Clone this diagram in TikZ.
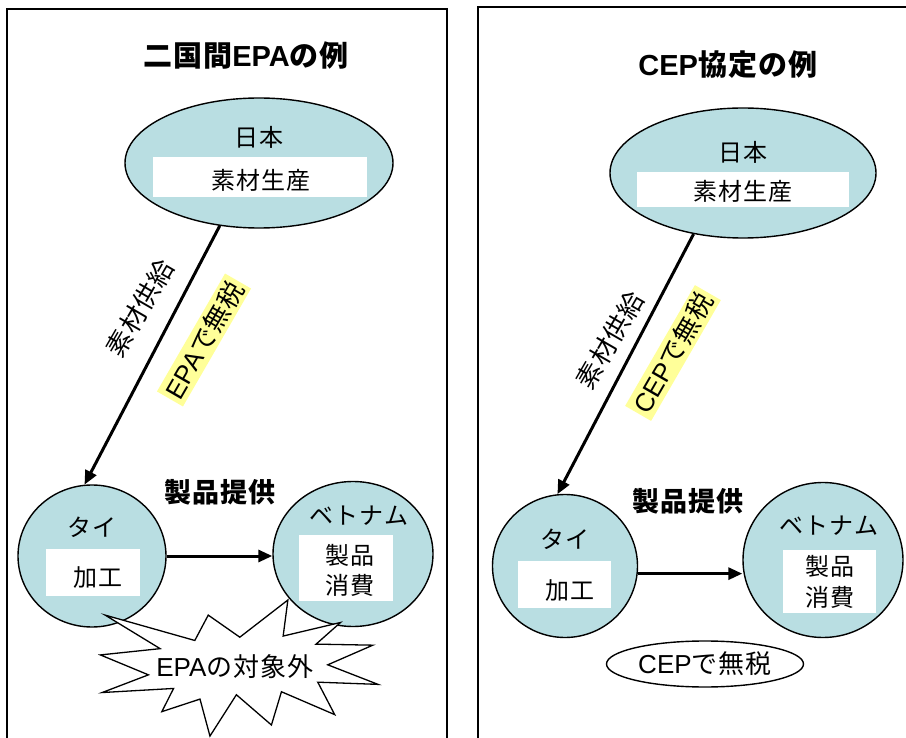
\documentclass[tikz,border=0pt]{standalone}
\usepackage{fontspec}
\setmainfont{Noto Sans CJK JP}[LetterSpace=4]
\newfontfamily\la{Liberation Sans}
\usetikzlibrary{shapes.geometric,arrows.meta}
\definecolor{cbl}{RGB}{185,222,226}
\definecolor{hly}{RGB}{255,255,153}
\tikzset{
  country/.style={ellipse, draw, line width=1.4pt, fill=cbl, inner sep=0pt},
  wbox/.style={fill=white, inner sep=0pt},
  lbl/.style={font=\fontsize{24}{28}\selectfont, inner sep=0pt},
  big/.style={font=\fontsize{26}{30}\selectfont, inner sep=0pt},
  ttl/.style={font=\fontsize{29}{32}\selectfont\bfseries, inner sep=0pt},
  flow/.style={font=\fontsize{27}{30}\selectfont\bfseries, inner sep=0pt},
  arr/.style={line width=3pt, -{Triangle[length=14pt,width=12pt]}},
  panel/.style={draw, line width=1.4pt},
  hlbox/.style={big, fill=hly, inner sep=3pt, rotate=60},
  seal/.style={draw, line width=1.3pt, fill=white, line join=miter},
}
\begin{document}
\begin{tikzpicture}[x=1pt,y=-1pt]
\useasboundingbox (0,0) rectangle (906,738);
\clip (0,0) rectangle (906,738);
\fill[white] (0,0) rectangle (906,738);
\draw[panel] (7,9) rectangle (447,760);
\draw[panel] (478,7) rectangle (920,760);

% titles
\node[ttl] (t1) at (246,55) {二国間{\la EPA}の例};
\node[ttl] (t2) at (728,65) {{\la CEP}協定の例};

% ---------- left panel ----------
\node[country, minimum width=268, minimum height=130] (jpL) at (259,163) {};
\node[wbox, minimum width=214, minimum height=40] (bxL) at (260,177) {};
\node[lbl] (jpLn) at (259,137) {日本};
\node[lbl] (jpLs) at (261,180) {素材生産};

\node[country, minimum width=148, minimum height=142] (thL) at (92,556) {};
\node[wbox, minimum width=94, minimum height=47] (thLb) at (93,572) {};
\node[lbl] (thLn) at (92,527) {タイ};
\node[lbl] (thLs) at (98,578) {加工};

\node[country, minimum width=160, minimum height=145] (vnL) at (353,554) {};
\node[wbox, minimum width=94, minimum height=66] (vnLb) at (346,568) {};
\node[lbl] (vnLn) at (359,516) {ベトナム};
\node[lbl] (vnLs1) at (350,555) {製品};
\node[lbl] (vnLs2) at (350,585) {消費};

\draw[arr] (jpL.238) -- (thL.96);
\draw[arr] (thL.east) -- (vnL.west |- thL.east);
\node[flow] (fL) at (220,492) {製品提供};
\node[big, rotate=60] (sL) at (140,308) {素材供給};
\node[hlbox] (eL) at (204,340) {{\la EPA}で無税};

% explosion
\begin{scope}[shift={(99,600)}, xscale=1.2917, yscale=0.63]
\draw[seal] (109.01,59.05) -- (84.58,23.99) -- (74.17,64.25) -- (4.76,23.99)
  -- (47.32,77.22) -- (1.06,87.18) -- (38.28,118.80) -- (2.43,146.89)
  -- (57.72,140.41) -- (48.68,177.19) -- (78.19,157.30) -- (85.90,216.00)
  -- (106.37,150.38) -- (133.49,198.40) -- (141.25,145.61) -- (182.48,181.95)
  -- (169.38,130.44) -- (216.00,133.93) -- (177.10,102.87) -- (211.98,71.71)
  -- (168.06,70.04) -- (186.98,35.70) -- (142.57,57.23) -- (146.23,0)
  -- cycle;
\end{scope}
\node[big] (sealt) at (235,667) {{\la EPA}の対象外};

% ---------- right panel ----------
\node[country, minimum width=266, minimum height=130] (jpR) at (743,173) {};
\node[wbox, minimum width=212, minimum height=35] (bxR) at (743,190) {};
\node[lbl] (jpRn) at (743,152) {日本};
\node[lbl] (jpRs) at (743,191) {素材生産};

\node[country, minimum width=145, minimum height=143] (thR) at (565,566) {};
\node[wbox, minimum width=93, minimum height=47] (thRb) at (564,584) {};
\node[lbl] (thRn) at (565,539) {タイ};
\node[lbl] (thRs) at (570,591) {加工};

\node[country, minimum width=160, minimum height=155] (vnR) at (823,560) {};
\node[wbox, minimum width=93, minimum height=63] (vnRb) at (829,581) {};
\node[lbl] (vnRn) at (829,526) {ベトナム};
\node[lbl] (vnRs1) at (830,566) {製品};
\node[lbl] (vnRs2) at (830,597) {消費};

\draw[arr] (jpR.231) -- (thR.96);
\draw[arr] (thR.-6) -- (vnR.west |- thR.-6);
\node[flow] (fR) at (688,501) {製品提供};
\node[big, rotate=60] (sR) at (610,340) {素材供給};
\node[hlbox] (eR) at (673,353) {{\la CEP}で無税};

\node[ellipse, draw, line width=1.4pt, fill=white, minimum width=197, minimum height=46, inner sep=0pt, font=\fontsize{26}{30}\selectfont] (cepE) at (705,664) {{\la CEP}で無税};
\end{tikzpicture}
\end{document}
